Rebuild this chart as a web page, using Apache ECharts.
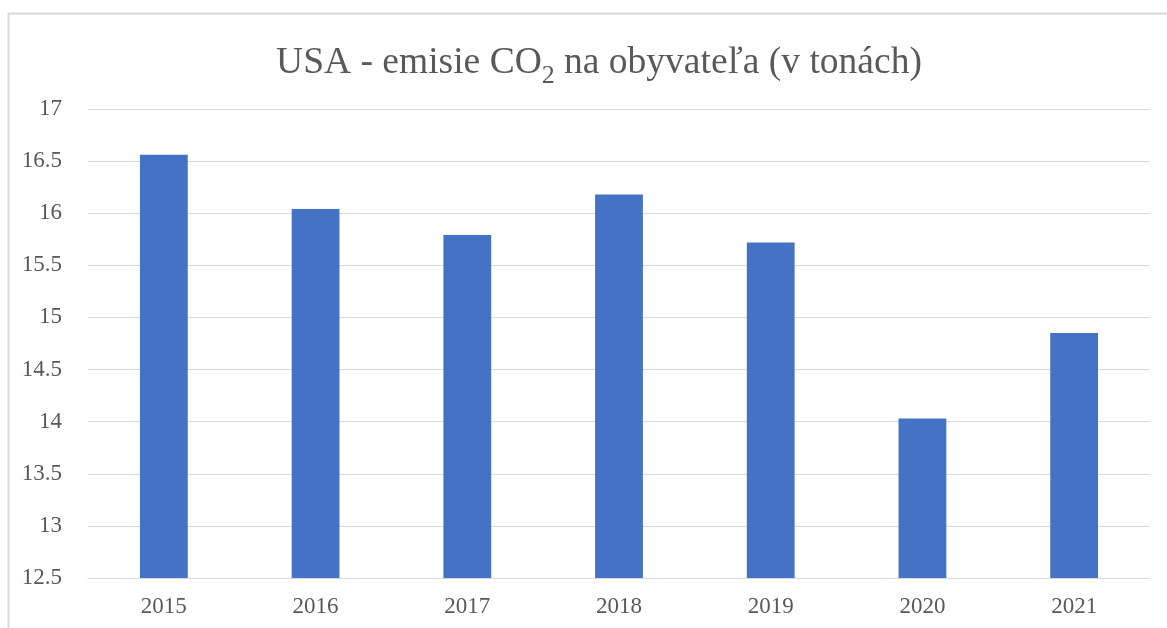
<!DOCTYPE html>
<html>
<head>
<meta charset="utf-8">
<script src="https://cdn.jsdelivr.net/npm/echarts@6/dist/echarts.min.js"></script>
<style>html,body{margin:0;padding:0;background:#fff}#c{width:1167px;height:628px}</style>
</head>
<body>
<div id="c"></div>
<script>
const years = ['2015', '2016', '2017', '2018', '2019', '2020', '2021'];
const emissions = [16.56, 16.04, 15.79, 16.18, 15.72, 14.03, 14.85];
const yTicks = { min: 12.5, max: 17, step: 0.5 };

const chart = echarts.init(document.getElementById('c'), null, { renderer: 'canvas' });
const serif = '"Liberation Serif", "Times New Roman", serif';
chart.setOption({
  animation: false,
  backgroundColor: '#ffffff',
  graphic: [{
    type: 'rect', silent: true,
    shape: { x: 8.5, y: 13.5, width: 1200, height: 700 },
    style: { fill: 'none', stroke: '#d9d9d9', lineWidth: 2 }
  }],
  title: {
    text: '{m|USA - emisie CO}{s|2}{m| na obyvateľa (v tonách)}',
    left: 594, top: 33, textAlign: 'center',
    textStyle: {
      fontWeight: 'normal',
      rich: {
        m: { fontFamily: serif, fontSize: 37.5, fontWeight: 'normal', color: '#595959', lineHeight: 44, verticalAlign: 'bottom' },
        s: { fontFamily: serif, fontSize: 26, fontWeight: 'normal', color: '#595959', lineHeight: 26, verticalAlign: 'top', padding: [25, 0, 0, 0] }
      }
    }
  },
  grid: { left: 88, right: 17, top: 109, bottom: 50 },
  xAxis: {
    type: 'category', data: years,
    axisLine: { lineStyle: { color: '#d9d9d9', width: 1 } },
    axisTick: { show: false },
    axisLabel: { color: '#595959', fontFamily: serif, fontSize: 23, margin: 17 }
  },
  yAxis: {
    type: 'value', min: yTicks.min, max: yTicks.max, interval: yTicks.step,
    axisLine: { show: false }, axisTick: { show: false },
    splitLine: { lineStyle: { color: '#d9d9d9', width: 1 } },
    axisLabel: { color: '#595959', fontFamily: serif, fontSize: 23, margin: 26 }
  },
  series: [{
    type: 'bar', data: emissions, barWidth: '31.5%',
    itemStyle: { color: '#4472c4' }
  }]
});
</script>
</body>
</html>
